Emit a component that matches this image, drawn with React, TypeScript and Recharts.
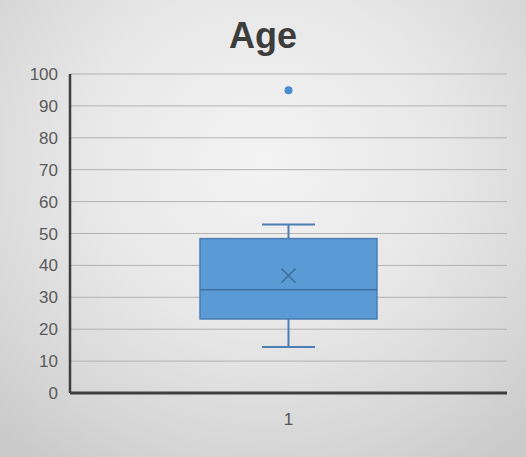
import React from "react";
import { ComposedChart, Bar, Scatter, XAxis, YAxis, CartesianGrid } from "recharts";

const categories = ["1"];
const minValues = [14.4];
const q1Values = [23.2];
const medianValues = [32.4];
const q3Values = [48.4];
const maxValues = [52.8];
const meanValues = [36.8];
const outlierValues = [94.9];
const yTicks = [0, 10, 20, 30, 40, 50, 60, 70, 80, 90, 100];

const data = categories.map((c, i) => ({
  cat: c,
  whisker: [minValues[i], maxValues[i]],
  min: minValues[i],
  q1: q1Values[i],
  median: medianValues[i],
  q3: q3Values[i],
  max: maxValues[i],
  mean: meanValues[i],
  outlier: outlierValues[i],
}));

const BOX_FILL = "#5B9BD5";
const BOX_STROKE = "#4A7EB5";
const DARK = "#41719C";

const BoxShape = (props: any) => {
  const { x, y, width, height, payload } = props;
  const top = Math.min(y, y + height);
  const bottom = Math.max(y, y + height);
  const span = payload.max - payload.min;
  const k = span > 0 ? (bottom - top) / span : 0;
  const py = (v: number) => top + (payload.max - v) * k;
  const cx = x + width / 2;
  const capHalf = 26.5;
  const mx = 7;
  const my = py(payload.mean);
  return (
    <g>
      <line x1={cx} x2={cx} y1={py(payload.max)} y2={py(payload.q3)} stroke={BOX_STROKE} strokeWidth={2} />
      <line x1={cx} x2={cx} y1={py(payload.q1)} y2={py(payload.min)} stroke={BOX_STROKE} strokeWidth={2} />
      <line x1={cx - capHalf} x2={cx + capHalf} y1={py(payload.max)} y2={py(payload.max)} stroke={BOX_STROKE} strokeWidth={2} />
      <line x1={cx - capHalf} x2={cx + capHalf} y1={py(payload.min)} y2={py(payload.min)} stroke={BOX_STROKE} strokeWidth={2} />
      <rect x={x} y={py(payload.q3)} width={width} height={py(payload.q1) - py(payload.q3)} fill={BOX_FILL} stroke={BOX_STROKE} strokeWidth={1.5} />
      <line x1={x} x2={x + width} y1={py(payload.median)} y2={py(payload.median)} stroke={DARK} strokeWidth={1.5} />
      <line x1={cx - mx} x2={cx + mx} y1={my - mx} y2={my + mx} stroke={DARK} strokeWidth={1.5} />
      <line x1={cx - mx} x2={cx + mx} y1={my + mx} y2={my - mx} stroke={DARK} strokeWidth={1.5} />
    </g>
  );
};

const OutlierShape = (props: any) => {
  const { cx, cy } = props;
  return <circle cx={cx} cy={cy} r={4} fill="#4A8CD0" />;
};

export default function App() {
  return (
    <div
      style={{
        position: "absolute",
        left: 0,
        top: 0,
        width: 526,
        height: 457,
        background:
          "radial-gradient(ellipse 75% 80% at 50% 35%, #f3f3f3 0%, #e8e8e8 45%, #d6d6d6 80%, #cacaca 100%)",
        fontFamily: "'Liberation Sans', Arial, sans-serif",
      }}
    >
      <div
        style={{
          position: "absolute",
          top: 18,
          left: 0,
          width: 526,
          textAlign: "center",
          fontSize: 36,
          lineHeight: "36px",
          fontWeight: "bold",
          color: "#3d3d3d",
        }}
      >
        Age
      </div>
      <ComposedChart
        width={526}
        height={457}
        data={data}
        margin={{ top: 74, right: 19, bottom: 24, left: 0 }}
        style={{ position: "absolute", left: 0, top: 0 }}
      >
        <CartesianGrid horizontal vertical={false} stroke="#b3b3b3" strokeWidth={1} />
        <XAxis
          dataKey="cat"
          height={40}
          tickLine={false}
          tickSize={0}
          tickMargin={20}
          axisLine={{ stroke: "#3f3f3f", strokeWidth: 3 }}
          tick={{ fill: "#555555", fontSize: 17, fontFamily: "'Liberation Sans', Arial, sans-serif" }}
        />
        <YAxis
          width={70}
          domain={[0, 100]}
          ticks={yTicks}
          interval={0}
          tickLine={false}
          tickSize={0}
          tickMargin={12}
          axisLine={{ stroke: "#3f3f3f", strokeWidth: 2.5 }}
          tick={{ fill: "#5a5a5a", fontSize: 17, fontFamily: "'Liberation Sans', Arial, sans-serif" }}
        />
        <Bar dataKey="whisker" barSize={177} shape={<BoxShape />} isAnimationActive={false} />
        <Scatter dataKey="outlier" shape={<OutlierShape />} isAnimationActive={false} />
      </ComposedChart>
    </div>
  );
}
